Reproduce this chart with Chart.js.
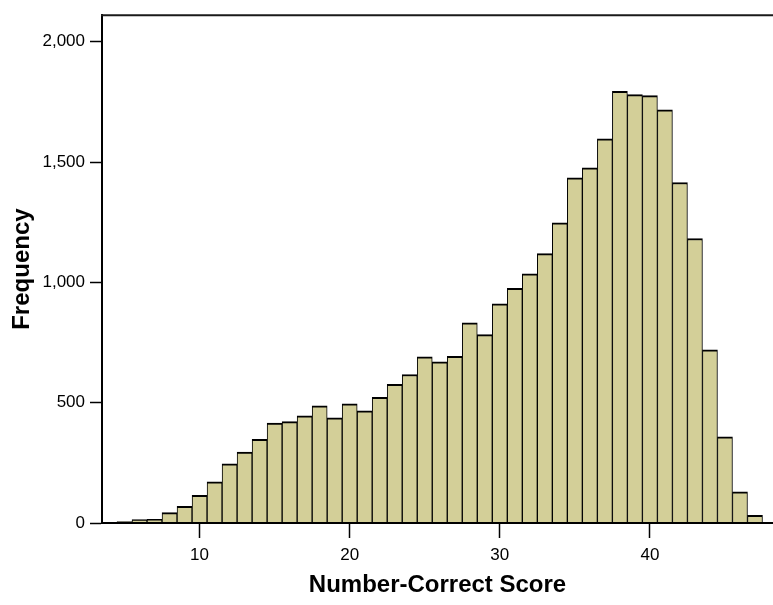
<!DOCTYPE html>
<html>
<head>
<meta charset="utf-8">
<title>Number-Correct Score</title>
<script src="https://cdn.jsdelivr.net/npm/chart.js@4"></script>
<style>
  html, body { margin: 0; padding: 0; background: #ffffff; }
  #chart { display: block; }
</style>
</head>
<body>
<canvas id="chart" width="773" height="605"></canvas>
<script>
// Score distribution: number of examinees at each number-correct score
const scores = [4, 5, 6, 7, 8, 9, 10, 11, 12, 13, 14, 15, 16, 17, 18, 19, 20, 21, 22, 23, 24, 25,
                26, 27, 28, 29, 30, 31, 32, 33, 34, 35, 36, 37, 38, 39, 40, 41, 42, 43, 44, 45, 46, 47];
const frequency = [1, 6, 14, 15, 43, 69, 115, 171, 246, 295, 348, 415, 421, 445, 487, 437, 495, 466, 522, 576, 617, 690,
                   670, 693, 832, 783, 911, 975, 1035, 1119, 1247, 1434, 1476, 1596, 1794, 1780, 1776, 1717, 1415, 1182, 720, 358, 130, 32];

// Axis tick values
const xTicks = [10, 20, 30, 40];
const yTicks = [0, 500, 1000, 1500, 2000];

const FONT = "'Liberation Sans', Arial, Helvetica, sans-serif";

// Closes the top of the plot frame
const frameTop = {
  id: 'frameTop',
  afterDraw(chart) {
    const { ctx, chartArea } = chart;
    ctx.save();
    ctx.strokeStyle = '#1a1a1a';
    ctx.lineWidth = 2;
    ctx.beginPath();
    ctx.moveTo(chartArea.left - 1, chartArea.top);
    ctx.lineTo(chartArea.right, chartArea.top);
    ctx.stroke();
    ctx.restore();
  }
};

new Chart(document.getElementById('chart'), {
  type: 'bar',
  data: {
    datasets: [{
      data: scores.map((s, i) => ({ x: s, y: frequency[i] })),
      backgroundColor: '#d3cf98',
      borderColor: '#000000',
      borderWidth: { top: 2, left: 1, right: 1, bottom: 0 },
      borderSkipped: 'bottom',
      barPercentage: 1,
      categoryPercentage: 1
    }]
  },
  options: {
    responsive: false,
    devicePixelRatio: 1,
    animation: false,
    layout: { padding: { top: 7, left: 0, right: 0, bottom: 0 } },
    plugins: { legend: { display: false }, tooltip: { enabled: false } },
    scales: {
      x: {
        type: 'linear',
        offset: false,
        min: 3.5,
        max: 48.2,
        afterFit(scale) { scale.height = 82; },
        afterBuildTicks(scale) { scale.ticks = xTicks.map(v => ({ value: v })); },
        grid: {
          display: true,
          offset: false,
          drawOnChartArea: false,
          drawTicks: true,
          tickLength: 15,
          tickColor: '#000000',
          tickWidth: 1.5
        },
        border: { display: true, color: '#000000', width: 2, z: 1 },
        ticks: {
          color: '#000000',
          font: { family: FONT, size: 17 },
          padding: 7,
          maxRotation: 0,
          autoSkip: false
        },
        title: {
          display: true,
          text: 'Number-Correct Score',
          color: '#000000',
          font: { family: FONT, size: 24, weight: 'bold' },
          padding: { top: 0, bottom: 5 }
        }
      },
      y: {
        min: 0,
        max: 2110,
        afterFit(scale) { scale.width = 102; },
        afterBuildTicks(scale) { scale.ticks = yTicks.map(v => ({ value: v })); },
        grid: {
          display: true,
          drawOnChartArea: false,
          drawTicks: true,
          tickLength: 12,
          tickColor: '#000000',
          tickWidth: 1.5
        },
        border: { display: true, color: '#000000', width: 2, z: 1 },
        ticks: {
          color: '#000000',
          font: { family: FONT, size: 17 },
          padding: 5,
          callback: v => v.toLocaleString('en-US')
        },
        title: {
          display: true,
          text: 'Frequency',
          color: '#000000',
          font: { family: FONT, size: 24, weight: 'bold' },
          padding: { top: 8, bottom: 0 }
        }
      }
    }
  },
  plugins: [frameTop]
});
</script>
</body>
</html>
